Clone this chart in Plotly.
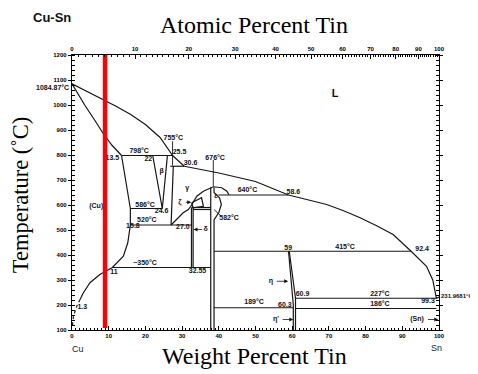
import plotly.graph_objects as go

# ---------------- data (wt% Sn, temperature in deg C) ----------------
liq_cu_wt = [0, 4, 8, 12, 16, 20, 24, 27.4]
liq_cu_T = [1084.87, 1056, 1026, 995, 962, 922, 870, 798]
liq_beta_wt = [27.4, 30.6]
liq_beta_T = [798, 755]
liq_gamma_wt = [30.6, 40, 50, 59.0]
liq_gamma_T = [755, 728, 694, 640]
liq_eps_wt = [59.0, 64, 69.4, 74, 78.5, 83, 87.5, 92.4]
liq_eps_T = [640, 622, 602, 577, 549, 517, 482, 415]
liq_eta_wt = [92.4, 94.5, 96.6, 98.3, 99.3, 100]
liq_eta_T = [415, 387, 355, 300, 227, 231.97]

sol_cu_wt = [0, 3.5, 6.2, 8.5, 10.9, 13.5]
sol_cu_T = [1084.87, 999, 939, 886, 839, 798]

cu_solvus_wt = [13.5, 15.9, 15.9, 15.2, 14.0, 12.2, 11.0, 7.6, 4.9, 3.1, 2.2]
cu_solvus_T = [798, 586, 520, 449, 395, 369, 350, 322, 289, 249, 222]
cu_solvus_dot_wt = [2.2, 1.3, 0.4, 0.1]
cu_solvus_dot_T = [222, 195, 155, 115]

beta_left_wt = [22.0, 24.6]
beta_left_T = [798, 586]
beta_right_wt = [26.0, 24.6]
beta_right_T = [798, 586]
gamma_left_wt = [27.6, 27.0]
gamma_left_T = [755, 520]
gamma_right_wt = [27.0, 29.0, 30.3, 31.7, 32.6, 34.0, 35.8, 38.5, 40.8, 42.2, 42.8]
gamma_right_T = [520, 549, 569, 582, 600, 635, 655, 673, 669, 655, 640]

delta_a_wt = [32.55, 32.55]
delta_a_T = [590, 350]
delta_b_wt = [33.0, 33.0]
delta_b_T = [590, 350]
zeta_wt = [32.6, 35.3, 35.8, 33.0, 32.6]
zeta_T = [609, 629, 595, 589, 609]
eps_left_wt = [37.8, 37.8]
eps_left_T = [670, 100]
eps_right_wt = [38.7, 38.7, 40.2, 40.7, 40.0, 38.7, 38.7]
eps_right_T = [670, 650, 629, 602, 570, 540, 100]
eta_left_wt = [59.0, 60.3, 60.3]
eta_left_T = [415, 200, 100]
eta_right_wt = [59.2, 60.9, 60.9]
eta_right_T = [415, 227, 100]

iso_T = [798, 755, 586, 520, 350, 590, 582, 640, 415, 227, 189, 186]
iso_from = [13.5, 26.8, 15.9, 15.9, 11.0, 32.55, 33.0, 39.9, 38.7, 60.9, 38.7, 60.9]
iso_to = [27.4, 30.6, 24.6, 32.55, 37.8, 37.8, 37.8, 59.0, 92.4, 99.3, 60.3, 99.3]

pointer_wt = [[27.4, 27.4], [38.5, 38.5], [38.7, 40.6]]
pointer_T = [[855, 758], [780, 676], [582, 556]]

arrow_tail_wt = [30.6, 35.9, 55.4, 57.0, 96.6]
arrow_head_wt = [32.5, 33.1, 58.9, 60.3, 99.8]
arrow_T = [611, 502, 295, 142, 142]

label_text = ["L", "798°C", "755°C", "25.5", "13.5", "22", "30.6", "676°C",
              "β", "γ", "ε", "ζ", "640°C", "58.6", "586°C", "24.6", "520°C", "15.8",
              "27.0", "582°C", "δ", "~350°C", "11", "32.55", "1.3", "(Cu)", "59",
              "415°C", "92.4", "η", "60.9", "227°C", "99.3", "189°C",
              "60.3", "186°C", "η'", "(Sn)"]
label_wt = [71.7, 18.3, 27.6, 29.3, 11.0, 20.8, 32.3, 39.0,
            24.4, 31.4, 39.2, 29.4, 47.8, 60.3, 19.9, 24.4, 20.4, 16.6,
            30.2, 42.8, 36.4, 19.9, 11.4, 34.2, 2.8, 6.6, 58.9,
            74.4, 95.4, 54.2, 62.8, 83.9, 97.0, 49.6,
            58.0, 83.9, 55.6, 94.0]
label_T = [1042, 815, 866, 810, 789, 785, 766, 789,
           735, 669, 635, 611, 660, 652, 598, 575, 539, 515,
           511, 549, 502, 369, 331, 335, 190, 594, 429,
           433, 425, 295, 242, 245, 215, 210,
           199, 202, 142, 142]
label_size = [11] + [7] * (len(label_text) - 1)

# temperatures written outside the frame: Cu melting point (left) and Sn melting point (right)
cu_melt_label, cu_melt_T = "1084.87°C", 1072
sn_melt_label, sn_melt_T = "231.9681°C", 235

red_line_wt = [9.0, 9.0]
red_line_T = [108, 1200]

bottom_ticks = list(range(0, 101, 10))
atomic_ticks = list(range(0, 101, 10))
atomic_minor = list(range(0, 101, 1))
M_SN, M_CU = 118.71, 63.546


def at_to_wt(a):
    return 100.0 * a * M_SN / (a * M_SN + (100 - a) * M_CU)


# ---------------- figure ----------------
INK = "#161616"
LW = 1.2
fig = go.Figure()


def add_line(xs, ys, dash="solid", width=LW):
    fig.add_trace(go.Scatter(x=xs, y=ys, mode="lines", line=dict(color=INK, width=width, dash=dash),
                             hoverinfo="skip", showlegend=False))


for xs, ys in [(liq_cu_wt, liq_cu_T), (liq_beta_wt, liq_beta_T), (liq_gamma_wt, liq_gamma_T),
               (liq_eps_wt, liq_eps_T), (liq_eta_wt, liq_eta_T), (sol_cu_wt, sol_cu_T),
               (cu_solvus_wt, cu_solvus_T), (beta_left_wt, beta_left_T), (beta_right_wt, beta_right_T),
               (gamma_left_wt, gamma_left_T), (gamma_right_wt, gamma_right_T),
               (delta_a_wt, delta_a_T), (delta_b_wt, delta_b_T), (zeta_wt, zeta_T),
               (eps_left_wt, eps_left_T), (eps_right_wt, eps_right_T),
               (eta_left_wt, eta_left_T), (eta_right_wt, eta_right_T)]:
    add_line(xs, ys)
add_line(cu_solvus_dot_wt, cu_solvus_dot_T, dash="dot")

for T, a, b in zip(iso_T, iso_from, iso_to):
    add_line([a, b], [T, T])
for xs, ys in zip(pointer_wt, pointer_T):
    add_line(xs, ys, width=0.9)

lab_font = dict(family="Liberation Sans", size=label_size, color="#111111", weight="bold")
fig.add_trace(go.Scatter(x=label_wt, y=label_T, mode="text", text=label_text, textposition="middle center",
                         textfont=lab_font, cliponaxis=False, hoverinfo="skip", showlegend=False))

# invisible trace so the top (atomic %) axis is drawn
fig.add_trace(go.Scatter(x=[0, 100], y=[100, 100], xaxis="x2", mode="markers",
                         marker=dict(opacity=0), hoverinfo="skip", showlegend=False))

# red marker line
fig.add_trace(go.Scatter(x=red_line_wt, y=red_line_T, mode="lines",
                         line=dict(color="#ff0000", width=4.5), hoverinfo="skip", showlegend=False))

for t, h, T in zip(arrow_tail_wt, arrow_head_wt, arrow_T):
    fig.add_annotation(x=h, y=T, ax=t, ay=T, axref="x", ayref="y", xref="x", yref="y", text="",
                       showarrow=True, arrowhead=2, arrowsize=1, arrowwidth=0.8, arrowcolor=INK)

fig.add_annotation(text=cu_melt_label, x=0, y=cu_melt_T, xref="x", yref="y", xanchor="right",
                   yanchor="middle", xshift=-1, showarrow=False,
                   font=dict(family="Liberation Sans", size=7, color="#111111", weight="bold"))
fig.add_annotation(text=sn_melt_label, x=100, y=sn_melt_T, xref="x", yref="y", xanchor="left",
                   yanchor="middle", xshift=0, showarrow=False,
                   font=dict(family="Liberation Sans", size=6, color="#111111", weight="bold"))

tickfont = dict(family="Liberation Sans", size=6, color="black", weight="bold")
# the page body adds an 8 px offset, so the figure is 8 px smaller on each axis
fig.update_layout(
    width=470, height=366,
    margin=dict(l=64, r=39, t=47, b=44),
    paper_bgcolor="white", plot_bgcolor="white", showlegend=False,
    xaxis=dict(range=[0, 100], tickmode="array", tickvals=bottom_ticks, ticktext=[str(v) for v in bottom_ticks],
               ticks="inside", ticklen=4, tickwidth=1, tickcolor="black",
               minor=dict(ticks="inside", ticklen=2, dtick=1, tickcolor="black", tickwidth=0.6),
               showline=True, linecolor="black", linewidth=1.4, showgrid=False, zeroline=False,
               tickfont=tickfont),
    xaxis2=dict(overlaying="x", side="top", range=[0, 100], tickmode="array",
                tickvals=[at_to_wt(a) for a in atomic_ticks], ticktext=[str(a) for a in atomic_ticks],
                ticks="inside", ticklen=4, tickwidth=1, tickcolor="black",
                minor=dict(ticks="inside", ticklen=2, tickvals=[at_to_wt(a) for a in atomic_minor],
                           tickcolor="black", tickwidth=0.6),
                showline=True, linecolor="black", linewidth=1.4, showgrid=False, zeroline=False,
                tickfont=tickfont),
    yaxis=dict(range=[100, 1200], tick0=100, dtick=100, ticks="outside", ticklen=3, tickwidth=1,
               tickcolor="black", minor=dict(ticks="inside", ticklen=2, dtick=20, tickcolor="black", tickwidth=0.6),
               showline=True, linecolor="black", linewidth=1.4, mirror="allticks", showgrid=False,
               zeroline=False, tickfont=tickfont),
)

serif = "Liberation Serif"
fig.add_annotation(text="Atomic Percent Tin", xref="paper", yref="paper", x=0.496, y=1.11,
                   xanchor="center", yanchor="middle", showarrow=False,
                   font=dict(family=serif, size=24, color="black"))
fig.add_annotation(text="Weight Percent Tin", xref="paper", yref="paper", x=0.496, y=-0.093,
                   xanchor="center", yanchor="middle", showarrow=False,
                   font=dict(family=serif, size=24, color="black"))
fig.add_annotation(text="Temperature (˚C)", xref="paper", yref="paper", x=-0.142, y=0.49,
                   xanchor="center", yanchor="middle", showarrow=False, textangle=-90,
                   font=dict(family=serif, size=22.5, color="black"))
fig.add_annotation(text="<b>Cu-Sn</b>", xref="paper", yref="paper", x=-0.055, y=1.136,
                   xanchor="center", yanchor="middle", showarrow=False,
                   font=dict(family="Liberation Sans", size=13, color="#111111"))
fig.add_annotation(text="Cu", xref="paper", yref="paper", x=0.016, y=-0.068,
                   xanchor="center", yanchor="middle", showarrow=False,
                   font=dict(family="Liberation Sans", size=9, color="#222222"))
fig.add_annotation(text="Sn", xref="paper", yref="paper", x=0.993, y=-0.066,
                   xanchor="center", yanchor="middle", showarrow=False,
                   font=dict(family="Liberation Sans", size=9, color="#222222"))

fig.write_html("out.html")
